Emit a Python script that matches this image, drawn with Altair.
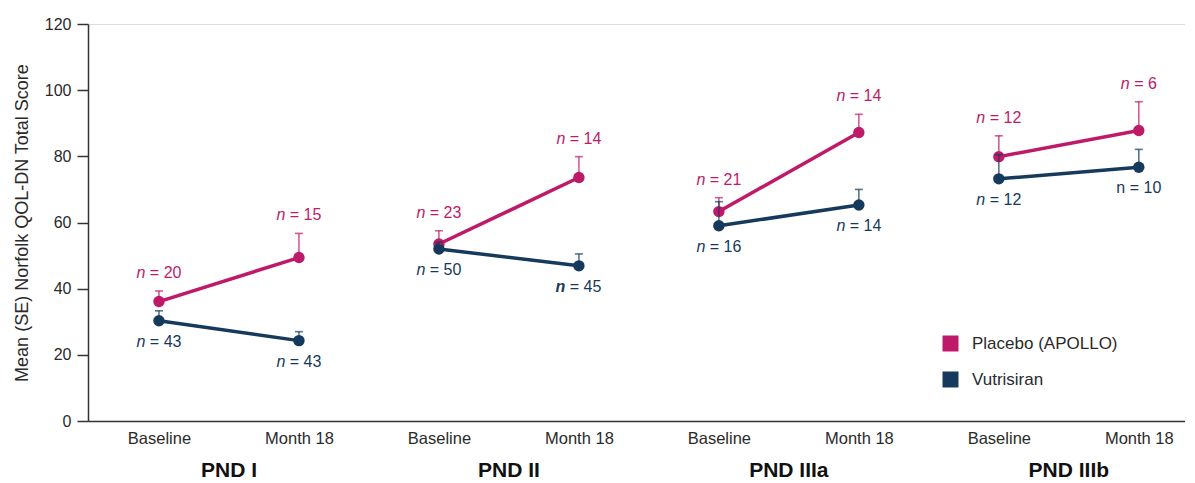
import altair as alt
import pandas as pd

# ---- data ----
groups = ["PND I", "PND II", "PND IIIa", "PND IIIb"]
timepoints = ["Baseline", "Month 18"]
series_names = ["Placebo (APOLLO)", "Vutrisiran"]
series_colors = ["#BF1A6A", "#163A5C"]

placebo_mean = [36.1, 49.4, 53.5, 73.6, 63.3, 87.2, 79.9, 87.8]
placebo_se = [3.2, 7.3, 4.0, 6.3, 4.2, 5.5, 6.3, 8.7]
placebo_n = [20, 15, 23, 14, 21, 14, 12, 6]
placebo_n_style = ["italic"] * 8

vutrisiran_mean = [30.3, 24.3, 52.0, 46.9, 59.0, 65.3, 73.2, 76.7]
vutrisiran_se = [3.0, 2.7, 2.0, 3.6, 7.3, 4.7, 7.3, 5.4]
vutrisiran_n = [43, 43, 50, 45, 16, 14, 12, 10]
vutrisiran_n_style = ["italic", "italic", "italic", "bold", "italic", "italic", "italic", "normal"]

y_title = "Mean (SE) Norfolk QOL-DN Total Score"

# ---- build tables ----
rows = []
for s_idx, (name, means, ses, ns, styles) in enumerate([
    (series_names[0], placebo_mean, placebo_se, placebo_n, placebo_n_style),
    (series_names[1], vutrisiran_mean, vutrisiran_se, vutrisiran_n, vutrisiran_n_style),
]):
    for i in range(8):
        g = groups[i // 2]
        rows.append({
            "series": name,
            "sidx": s_idx,
            "group": g,
            "time": timepoints[i % 2],
            "pos": i,
            "mean": means[i],
            "top": means[i] + ses[i],
            "n": ns[i],
            "rest": f"= {ns[i]}",
            "digits": len(str(ns[i])),
            "nstyle": styles[i],
        })
df = pd.DataFrame(rows)
gdf = pd.DataFrame({"group": groups, "gpos": [2 * k + 0.5 for k in range(len(groups))]})

FONT = "Liberation Sans"
xscale = alt.Scale(domain=[-0.507, 7.33], nice=False, zero=False)
yscale = alt.Scale(domain=[0, 120], nice=False)
cscale = alt.Scale(domain=series_names, range=series_colors)

legend = alt.Legend(
    title=None,
    orient="none",
    legendX=854,
    legendY=311,
    symbolType="square",
    symbolSize=256,
    symbolStrokeWidth=0,
    symbolOpacity=1,
    labelFontSize=17,
    labelColor="#2a2a2a",
    labelOffset=13,
    rowPadding=18,
)
color_enc = alt.Color("series:N", scale=cscale, legend=legend)

base = alt.Chart(df)

x_enc = alt.X(
    "pos:Q",
    scale=xscale,
    axis=alt.Axis(
        values=list(range(8)),
        labelExpr="['" + timepoints[0] + "','" + timepoints[1] + "'][datum.value % 2]",
        ticks=False,
        grid=False,
        title=None,
        labelFontSize=16.5,
        labelColor="#2a2a2a",
        labelPadding=9,
        labelFlush=False,
        labelOverlap=False,
        domainColor="#333333",
        domainWidth=1.5,
    ),
)
y_enc = alt.Y(
    "mean:Q",
    scale=yscale,
    axis=alt.Axis(
        values=[0, 20, 40, 60, 80, 100, 120],
        grid=False,
        title=y_title,
        titleFontSize=18,
        titleFontWeight="normal",
        titleColor="#2a2a2a",
        titlePadding=13,
        labelFontSize=16,
        labelColor="#2a2a2a",
        labelPadding=6,
        tickSize=11,
        tickColor="#333333",
        tickWidth=1.5,
        domainColor="#333333",
        domainWidth=1.5,
    ),
)

points = base.mark_point(filled=True, shape="circle", size=130, opacity=1).encode(
    x=x_enc,
    y=y_enc,
    color=color_enc,
)

lines = base.mark_line(strokeWidth=3.5).encode(
    x="pos:Q",
    y="mean:Q",
    color=color_enc,
    detail="group:N",
)

err_rule = base.mark_rule(strokeWidth=1.6, opacity=0.7).encode(
    x="pos:Q",
    y="mean:Q",
    y2="top:Q",
    color=color_enc,
)
err_cap = base.mark_tick(orient="horizontal", size=8, thickness=1.6, opacity=0.7).encode(
    x="pos:Q",
    y="top:Q",
    color=color_enc,
)

# n labels: italic "n" part and "= k" part
label_layers = []
for sidx in [0, 1]:
    sub = df[df["sidx"] == sidx]
    yfield = "top:Q" if sidx == 0 else "mean:Q"
    dy = -18 if sidx == 0 else 21
    for digits in sorted(sub["digits"].unique()):
        for style in sorted(sub["nstyle"].unique()):
            part = sub[(sub["digits"] == digits) & (sub["nstyle"] == style)]
            if part.empty:
                continue
            w_rest = (0.584 + 0.278 + 0.556 * digits) * 16
            total = 0.556 * 16 + 0.278 * 16 + w_rest
            n_right = -total / 2 + 0.556 * 16
            rest_left = n_right + 0.278 * 16
            flt = (
                (alt.datum.sidx == sidx)
                & (alt.datum.digits == int(digits))
                & (alt.datum.nstyle == style)
            )
            fstyle = "normal" if style == "normal" else "italic"
            fweight = "bold" if style == "bold" else "normal"
            label_layers.append(
                base.transform_filter(flt).mark_text(
                    text="n", align="right", baseline="middle", dx=n_right, dy=dy,
                    fontSize=16, font=FONT, fontStyle=fstyle, fontWeight=fweight,
                ).encode(
                    x="pos:Q", y=yfield,
                    color=color_enc,
                )
            )
            label_layers.append(
                base.transform_filter(flt).mark_text(
                    align="left", baseline="middle", dx=rest_left, dy=dy,
                    fontSize=16, font=FONT,
                ).encode(
                    x="pos:Q", y=yfield, text="rest:N",
                    color=color_enc,
                )
            )

group_labels = alt.Chart(gdf).mark_text(
    fontSize=21, fontWeight="bold", font=FONT, color="#111111", baseline="middle", align="center"
).encode(
    x=alt.X("gpos:Q", scale=xscale),
    y=alt.value(447),
    text="group:N",
)

chart = alt.layer(
    points, lines, err_rule, err_cap, *label_layers, group_labels
).properties(
    width=1097,
    height=397,
    padding={"left": 80, "top": 16, "right": 0, "bottom": 61},
    autosize="none",
).configure_view(stroke=None).configure(
    font=FONT
)

chart.save("out.html", embed_options={"renderer": "svg", "actions": False})
